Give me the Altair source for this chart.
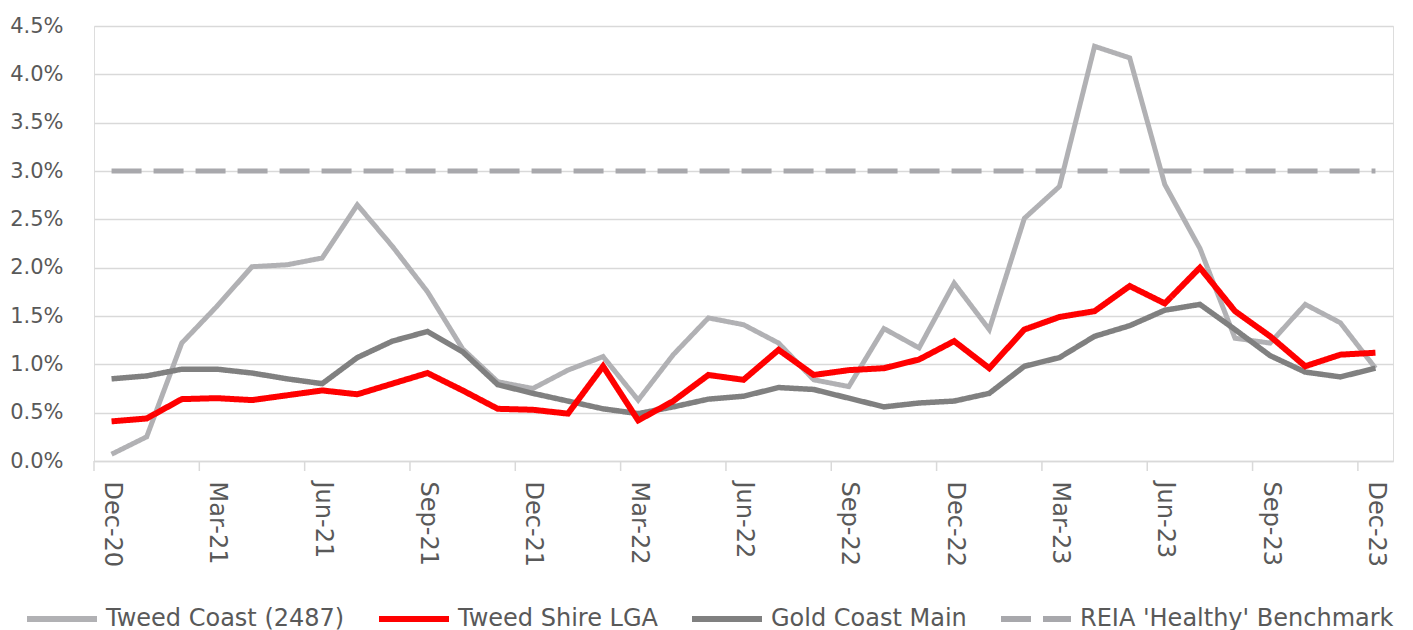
import altair as alt
import pandas as pd

months = ["Dec-20", "Jan-21", "Feb-21", "Mar-21", "Apr-21", "May-21", "Jun-21", "Jul-21", "Aug-21",
          "Sep-21", "Oct-21", "Nov-21", "Dec-21", "Jan-22", "Feb-22", "Mar-22", "Apr-22", "May-22",
          "Jun-22", "Jul-22", "Aug-22", "Sep-22", "Oct-22", "Nov-22", "Dec-22", "Jan-23", "Feb-23",
          "Mar-23", "Apr-23", "May-23", "Jun-23", "Jul-23", "Aug-23", "Sep-23", "Oct-23", "Nov-23",
          "Dec-23"]

tweed_coast = [0.07, 0.25, 1.22, 1.60, 2.01, 2.03, 2.10, 2.65, 2.22, 1.75, 1.16, 0.82, 0.75,
               0.94, 1.08, 0.63, 1.10, 1.48, 1.41, 1.22, 0.84, 0.77, 1.37, 1.17, 1.84, 1.36,
               2.51, 2.84, 4.29, 4.17, 2.86, 2.20, 1.27, 1.22, 1.62, 1.43, 0.96]
tweed_shire = [0.41, 0.44, 0.64, 0.65, 0.63, 0.68, 0.73, 0.69, 0.80, 0.91, 0.73, 0.54, 0.53,
               0.49, 0.98, 0.42, 0.62, 0.89, 0.84, 1.15, 0.89, 0.94, 0.96, 1.05, 1.24, 0.96,
               1.36, 1.49, 1.55, 1.81, 1.63, 2.00, 1.55, 1.29, 0.98, 1.10, 1.12]
gold_coast = [0.85, 0.88, 0.95, 0.95, 0.91, 0.85, 0.80, 1.07, 1.24, 1.34, 1.13, 0.79, 0.70,
              0.62, 0.54, 0.49, 0.56, 0.64, 0.67, 0.76, 0.74, 0.65, 0.56, 0.60, 0.62, 0.70,
              0.98, 1.07, 1.29, 1.40, 1.56, 1.62, 1.36, 1.09, 0.92, 0.87, 0.96]
benchmark = [3.0] * len(months)

series_names = ["Tweed Coast (2487)", "Tweed Shire LGA", "Gold Coast Main", "REIA 'Healthy' Benchmark"]
series_colors = ["#B1B1B4", "#FF0000", "#808080", "#A8A8AC"]
series_dash = [[1, 0], [1, 0], [1, 0], [30, 12]]
series_width = [5, 6, 5.5, 5]

tick_label_idx = list(range(0, 37, 3))
tick_mark_pos = [i - 0.5 for i in range(0, 37, 3)]

rows = []
for name, vals in zip(series_names, [tweed_coast, tweed_shire, gold_coast, benchmark]):
    for i, v in enumerate(vals):
        rows.append({"series": name, "idx": i, "month": months[i], "value": v})
df = pd.DataFrame(rows)
ticks_df = pd.DataFrame({"pos": tick_mark_pos})

FONT = "DejaVu Sans"
TXT = "#595959"
GRID = "#D9D9D9"

label_arr = "[" + ",".join("'" + m + "'" for m in months) + "]"

x_enc = alt.X("idx:Q",
              scale=alt.Scale(domain=[-0.5, 36.5], nice=False, zero=False),
              axis=alt.Axis(values=tick_label_idx, labelExpr=label_arr + "[datum.value]",
                            labelAngle=90, labelAlign="left", labelBaseline="middle",
                            labelFontSize=24, labelColor=TXT, labelFont=FONT, labelPadding=20,
                            ticks=False, grid=False, domain=True, domainColor=GRID,
                            domainWidth=1.5, title=None, labelOverlap=False))
y_enc = alt.Y("value:Q",
              scale=alt.Scale(domain=[0, 4.5], nice=False),
              axis=alt.Axis(values=[0, 0.5, 1, 1.5, 2, 2.5, 3, 3.5, 4, 4.5],
                            labelExpr="format(datum.value, '.1f') + '%'",
                            labelFontSize=21, labelColor=TXT, labelFont=FONT, labelPadding=31,
                            ticks=False, domain=False, grid=True, gridColor=GRID,
                            gridWidth=1.5, title=None))

color_enc = alt.Color("series:N",
                      scale=alt.Scale(domain=series_names, range=series_colors),
                      legend=alt.Legend(title=None, orient="none", legendX=-70, legendY=555,
                                        direction="horizontal", columns=4,
                                        symbolType="stroke", symbolSize=4900,
                                        symbolStrokeWidth=6, labelFontSize=24,
                                        labelFont=FONT, labelColor=TXT, labelOffset=6,
                                        columnPadding=22, labelLimit=400))
dash_enc = alt.StrokeDash("series:N",
                          scale=alt.Scale(domain=series_names, range=series_dash))

def series_layer(k):
    name = series_names[k]
    return alt.Chart(df).transform_filter(alt.datum.series == name).mark_line(
        strokeCap="butt", strokeJoin="miter", strokeWidth=series_width[k]
    ).encode(x=x_enc, y=y_enc, color=color_enc, strokeDash=dash_enc)

layers = [series_layer(3), series_layer(0), series_layer(2), series_layer(1)]

tick_marks = alt.Chart(ticks_df).mark_rule(color=GRID, strokeWidth=1.5).encode(
    x=alt.X("pos:Q"), y=alt.value(435), y2=alt.value(445))

chart = alt.layer(tick_marks, *layers).properties(
    width=1299, height=435,
    autosize=alt.AutoSizeParams(type="none"),
    padding={"left": 94, "top": 26, "right": 20, "bottom": 169},
    background="white",
).configure_view(stroke=None).configure(font=FONT)

chart.save("out.html", embed_options={"renderer": "svg", "actions": False})
